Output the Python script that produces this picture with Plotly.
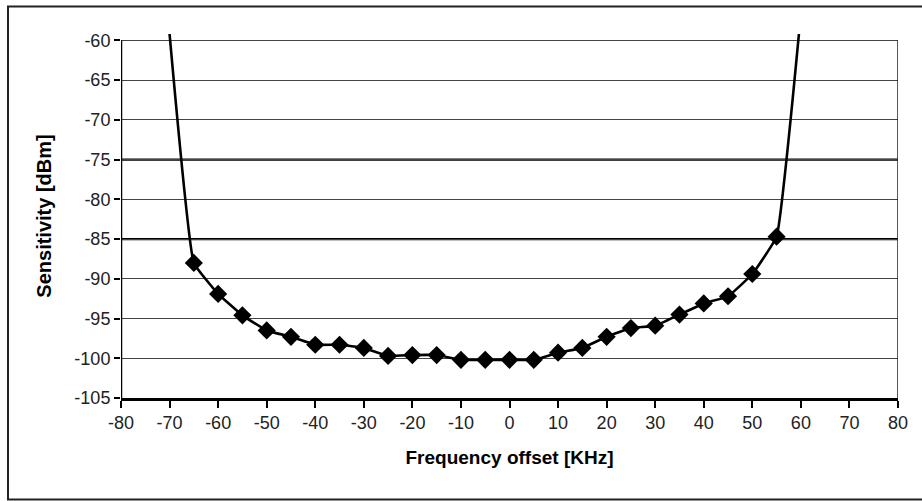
import plotly.graph_objects as go

# Data
freq_offset_khz = [-70, -65, -60, -55, -50, -45, -40, -35, -30, -25, -20, -15, -10, -5,
                   0, 5, 10, 15, 20, 25, 30, 35, 40, 45, 50, 55, 59.6]
sensitivity_dbm = [-59.2, -88.0, -91.9, -94.6, -96.5, -97.3, -98.3, -98.3, -98.7, -99.7,
                   -99.6, -99.6, -100.2, -100.2, -100.2, -100.2, -99.3, -98.7, -97.3, -96.2,
                   -95.9, -94.5, -93.1, -92.2, -89.4, -84.7, -59.2]
marker_freq = freq_offset_khz[1:-1]
marker_sens = sensitivity_dbm[1:-1]

x_ticks = [-80, -70, -60, -50, -40, -30, -20, -10, 0, 10, 20, 30, 40, 50, 60, 70, 80]
y_ticks = [-105, -100, -95, -90, -85, -80, -75, -70, -65, -60]

W, H = 922, 501
L, R, T, B = 121, 24, 33.6, 103
pw = W - L - R
ph = H - T - B

FONT = "Liberation Sans, Arial, sans-serif"

fig = go.Figure()
fig.add_trace(go.Scatter(
    x=freq_offset_khz, y=sensitivity_dbm, mode="lines",
    line=dict(color="black", width=2.6, shape="spline", smoothing=0.3),
    hoverinfo="skip", showlegend=False))
fig.add_trace(go.Scatter(
    x=marker_freq, y=marker_sens, mode="markers",
    marker=dict(symbol="diamond", size=14, color="black"),
    showlegend=False))

def px_to_paper_x(px):
    return (px - L) / pw

def px_to_paper_y(py):
    return (H - B - py) / ph

shapes = [
    # outer frame
    dict(type="rect", xref="paper", yref="paper",
         x0=px_to_paper_x(8), x1=px_to_paper_x(930),
         y0=px_to_paper_y(499.5), y1=px_to_paper_y(6),
         line=dict(color="#222", width=2), layer="below"),
    # left axis line
    dict(type="line", xref="x", yref="y", x0=-80, x1=-80, y0=-105, y1=-60,
         line=dict(color="black", width=2.5)),
    # right plot border
    dict(type="line", xref="x", yref="y", x0=80, x1=80, y0=-105, y1=-60,
         line=dict(color="#222", width=1.5)),
    # heavier gridlines seen in reference
    dict(type="line", xref="x", yref="y", x0=-80, x1=80, y0=-75, y1=-75,
         line=dict(color="black", width=2.2), layer="below"),
    dict(type="line", xref="x", yref="y", x0=-80, x1=80, y0=-85, y1=-85,
         line=dict(color="black", width=2.2), layer="below"),
]

fig.update_layout(
    width=W, height=H,
    margin=dict(l=L, r=R, t=T, b=B),
    paper_bgcolor="white", plot_bgcolor="white",
    font=dict(family=FONT, color="black", size=18),
    shapes=shapes,
    xaxis=dict(
        range=[-80, 80], tickvals=x_ticks, ticktext=[str(v) for v in x_ticks],
        showgrid=False, zeroline=False,
        showline=True, linecolor="black", linewidth=2.5,
        ticks="outside", ticklen=7, tickwidth=1.5, tickcolor="black",
        tickfont=dict(size=18, family=FONT, color="#222"),
        title=dict(text="<b>Frequency offset [KHz]</b>", standoff=19,
                   font=dict(size=19, family=FONT, color="black")),
    ),
    yaxis=dict(
        range=[-105, -59.2], tickvals=y_ticks, ticktext=[str(v) for v in y_ticks],
        showgrid=True, gridcolor="#444", gridwidth=1,
        zeroline=False, showline=False,
        ticks="outside", ticklen=6, tickwidth=1.5, tickcolor="black",
        tickfont=dict(size=18, family=FONT, color="#222"),
        title=dict(text="<b>Sensitivity [dBm]</b>", standoff=17,
                   font=dict(size=20, family=FONT, color="black")),
    ),
)

fig.write_html("out.html", config={"displayModeBar": False},
               post_script="document.body.style.margin='0';document.body.style.padding='0';")
